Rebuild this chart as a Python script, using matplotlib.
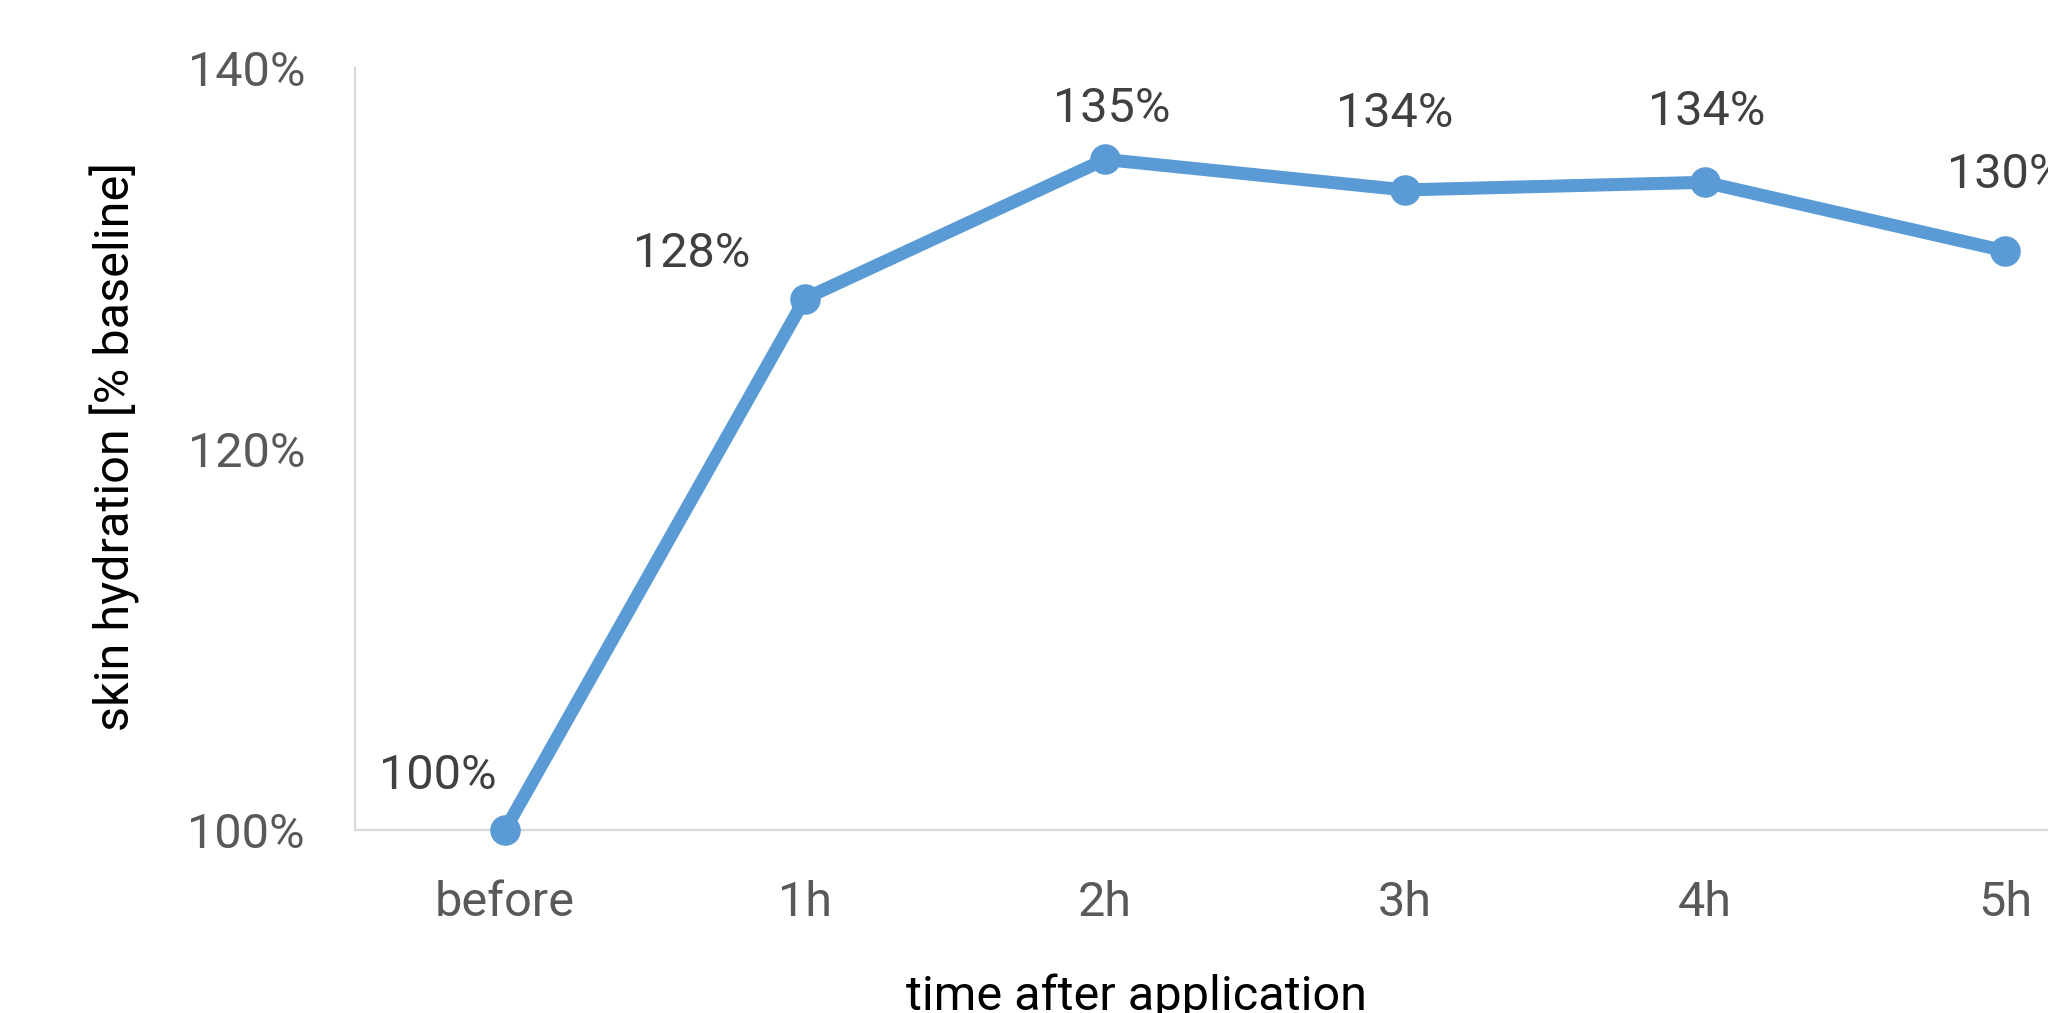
import numpy as np
import matplotlib
matplotlib.use("Agg")
import matplotlib.pyplot as plt

# skin hydration relative to the pre-application baseline
times = ["before", "1h", "2h", "3h", "4h", "5h"]
hydration = [100, 127.9, 135.2, 133.6, 134.0, 130.4]
y_ticks = [100, 120, 140]

# where each value label sits relative to its point (pixels, right/up)
label_offsets = [(-67, 54), (-113, 45), (7, 50), (-10, 76), (2, 70), (1, 76)]

plt.rcParams['font.family'] = ['Roboto', 'DejaVu Sans']

line_color = '#5B9BD5'
axis_color = '#D9D9D9'

fig = plt.figure(figsize=(20.48, 10.13), dpi=100)
# plot area runs past the right edge of the figure
ax = fig.add_axes([355 / 2048, 183 / 1013, 1800 / 2048, 762 / 1013])

x = np.arange(len(times))
ax.plot(x, hydration, color=line_color, lw=9.4, marker='o', ms=21,
        solid_capstyle='round', solid_joinstyle='round', clip_on=False, zorder=3)

for xi, val, (dx, dy) in zip(x, hydration, label_offsets):
    ax.annotate(f"{val:.0f}%", (xi, val), xytext=(dx, dy), textcoords='offset pixels',
                ha='center', va='center', fontsize=35, color='#404040',
                annotation_clip=False)

ax.set_xlim(-0.5, len(times) - 0.5)
ax.set_ylim(100, 140)
ax.set_xticks(x)
ax.set_xticklabels(times)
ax.set_yticks(y_ticks)
ax.set_yticklabels([f"{t}%" for t in y_ticks])
ax.tick_params(axis='both', length=0, labelsize=35, labelcolor='#595959')
ax.tick_params(axis='y', pad=36)
ax.tick_params(axis='x', pad=36)

for side in ['top', 'right']:
    ax.spines[side].set_visible(False)
for side in ['left', 'bottom']:
    ax.spines[side].set_color(axis_color)
    ax.spines[side].set_linewidth(1.6)

ax.set_xlabel("time after application", fontsize=35, color='black', va='baseline')
ax.xaxis.set_label_coords((1136 - 355) / 1800, -(1010 - 830) / 762)
ax.set_ylabel("skin hydration [% baseline]", fontsize=35, color='black', va='center')
ax.yaxis.set_label_coords((115 - 355) / 1800, (830 - 446) / 762)

fig.savefig("out.png", dpi=100)
